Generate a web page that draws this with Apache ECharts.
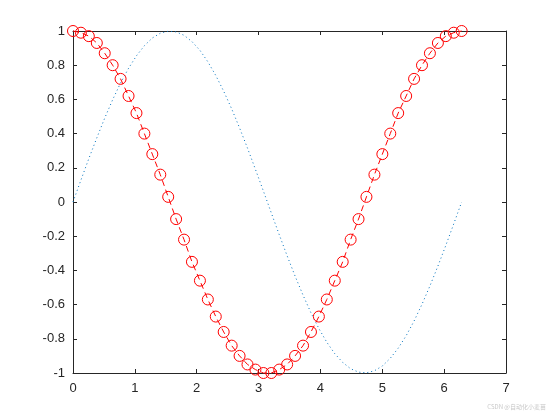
<!DOCTYPE html>
<html>
<head>
<meta charset="utf-8">
<script src="https://cdn.jsdelivr.net/npm/echarts@6/dist/echarts.min.js"></script>
<style>
html,body{margin:0;padding:0;background:#fff;}
#chart{width:560px;height:420px;}
</style>
</head>
<body>
<div id="chart"></div>
<script>
// x samples, 0 .. 2*pi (50 points)
const xVals = [0, 0.128, 0.256, 0.385, 0.513, 0.641, 0.769, 0.898, 1.026, 1.154,
  1.282, 1.411, 1.539, 1.667, 1.795, 1.923, 2.052, 2.180, 2.308, 2.436,
  2.565, 2.693, 2.821, 2.949, 3.078, 3.206, 3.334, 3.462, 3.590, 3.719,
  3.847, 3.975, 4.103, 4.232, 4.360, 4.488, 4.616, 4.744, 4.873, 5.001,
  5.129, 5.257, 5.386, 5.514, 5.642, 5.770, 5.899, 6.027, 6.155, 6.283]
// dotted blue curve
const sinVals = [0, 0.128, 0.254, 0.375, 0.491, 0.598, 0.696, 0.782, 0.855, 0.914,
  0.959, 0.987, 0.999, 0.995, 0.975, 0.938, 0.887, 0.820, 0.740, 0.648,
  0.545, 0.433, 0.315, 0.191, 0.064, -0.064, -0.191, -0.315, -0.433, -0.545,
  -0.648, -0.740, -0.820, -0.887, -0.938, -0.975, -0.995, -0.999, -0.987, -0.959,
  -0.914, -0.855, -0.782, -0.696, -0.598, -0.491, -0.375, -0.254, -0.128, 0]
// red dashed curve with circles
const cosVals = [1.00, 0.99, 0.97, 0.93, 0.87, 0.80, 0.72, 0.62, 0.52, 0.40,
  0.28, 0.16, 0.03, -0.10, -0.22, -0.35, -0.46, -0.57, -0.67, -0.76,
  -0.84, -0.90, -0.95, -0.98, -1.00, -1.00, -0.98, -0.95, -0.90, -0.84,
  -0.76, -0.67, -0.57, -0.46, -0.35, -0.22, -0.10, 0.03, 0.16, 0.28,
  0.40, 0.52, 0.62, 0.72, 0.80, 0.87, 0.93, 0.97, 0.99, 1.00]
const xTicks = [0, 1, 2, 3, 4, 5, 6, 7]
const yTicks = [-1, -0.8, -0.6, -0.4, -0.2, 0, 0.2, 0.4, 0.6, 0.8, 1]

const chart = echarts.init(document.getElementById('chart'))
const axisColor = '#262626'
const fontName = 'Liberation Sans'

function mkX(pos, labels){
  return {
    type:'value', position:pos, min:xTicks[0], max:xTicks[xTicks.length-1], interval:1,
    axisLine:{show:true, onZero:false, lineStyle:{color:axisColor, width:1}},
    axisTick:{show:true, inside:true, length:4, lineStyle:{color:axisColor}},
    axisLabel:{show:labels, color:axisColor, fontSize:13, fontFamily:fontName, margin:9},
    splitLine:{show:false}
  }
}
function mkY(pos, labels){
  return {
    type:'value', position:pos, min:-1, max:1, interval:0.2,
    axisLine:{show:true, onZero:false, lineStyle:{color:axisColor, width:1}},
    axisTick:{show:true, inside:true, length:4, lineStyle:{color:axisColor}},
    axisLabel:{show:labels, color:axisColor, fontSize:13, fontFamily:fontName, margin:8,
      formatter:(v)=>String(Math.round(v*10)/10)},
    splitLine:{show:false}
  }
}

const option = {
  backgroundColor:'#fff',
  animation:false,
  grid:{left:73, right:54, top:31, bottom:47, containLabel:false},
  xAxis:[mkX('bottom', true), mkX('top', false)],
  yAxis:[mkY('left', true), mkY('right', false)],
  graphic:[{
    type:'text', right:14, top:404,
    style:{text:'CSDN @自动化小麦苗', fill:'#c8c8c8', fontSize:6, fontFamily:'Noto Sans CJK SC'}
  }],
  series:[
    {
      type:'line', xAxisIndex:0, yAxisIndex:0,
      data:xVals.map((x,i)=>[x, sinVals[i]]),
      showSymbol:false, symbol:'none',
      lineStyle:{color:'#0072BD', width:1, type:[1,3]},
      z:2
    },
    {
      type:'line', xAxisIndex:0, yAxisIndex:0,
      data:xVals.map((x,i)=>[x, cosVals[i]]),
      symbol:'circle', symbolSize:11,
      itemStyle:{color:'rgba(255,255,255,0)', borderColor:'#ff0000', borderWidth:1},
      lineStyle:{color:'#ff0000', width:1, type:[6,4]},
      clip:false,
      z:3
    }
  ]
}
chart.setOption(option)
</script>
</body>
</html>
